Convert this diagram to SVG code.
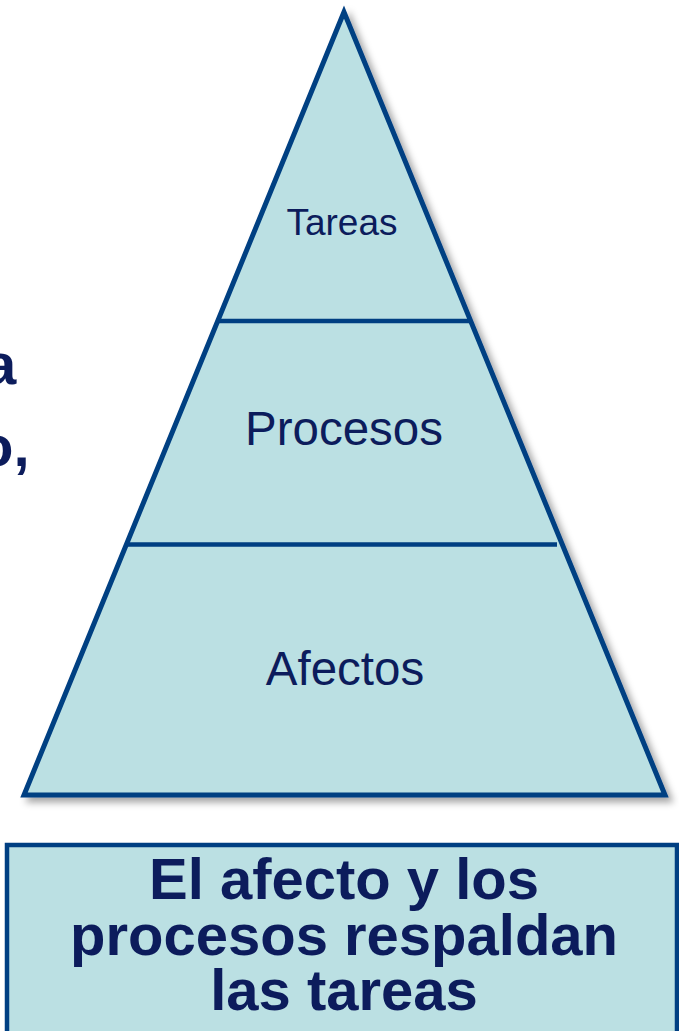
<svg xmlns="http://www.w3.org/2000/svg" width="679" height="1031" viewBox="0 0 679 1031">
  <style>
    .shape { fill: #bbe0e3; stroke: #003f82; }
    .div { stroke: #003f82; stroke-width: 4.5; fill: none; }
    .lbl { font-family: "Liberation Sans", Arial, sans-serif; fill: #0c1c5c; text-anchor: middle; }
    .bold { font-family: "Liberation Sans", Arial, sans-serif; fill: #0c1c5c; font-weight: bold; font-size: 58px; }
  </style>
  <defs>
    <filter id="shadow" x="-10%" y="-10%" width="130%" height="130%">
      <feDropShadow dx="5" dy="5" stdDeviation="3.5" flood-color="#000000" flood-opacity="0.35"/>
    </filter>
  </defs>
  <rect width="679" height="1031" fill="#ffffff"/>
  <g id="left-text">
    <text class="bold" x="-16" y="384">a</text>
    <text class="bold" x="-22" y="466">o,</text>
  </g>
  <g id="pyramid">
    <polygon class="shape" points="344,12 24,795 665,795" stroke-width="5" stroke-linejoin="miter" filter="url(#shadow)"/>
  </g>
  <g id="connectors">
    <line class="div" x1="218" y1="321" x2="470" y2="321"/>
    <line class="div" x1="126" y1="544.5" x2="557" y2="544.5"/>
  </g>
  <g id="tareas">
    <text class="lbl" x="342" y="235" font-size="37">Tareas</text>
  </g>
  <g id="procesos">
    <text class="lbl" x="344" y="445" font-size="47.5">Procesos</text>
  </g>
  <g id="afectos">
    <text class="lbl" x="345" y="685" font-size="47.5">Afectos</text>
  </g>
  <g id="caption">
    <rect class="shape" x="7" y="845" width="670" height="200" stroke-width="4.5"/>
    <text class="bold" x="344" y="899" text-anchor="middle">El afecto y los</text>
    <text class="bold" x="344" y="955" text-anchor="middle">procesos respaldan</text>
    <text class="bold" x="344" y="1010" text-anchor="middle">las tareas</text>
  </g>
</svg>
